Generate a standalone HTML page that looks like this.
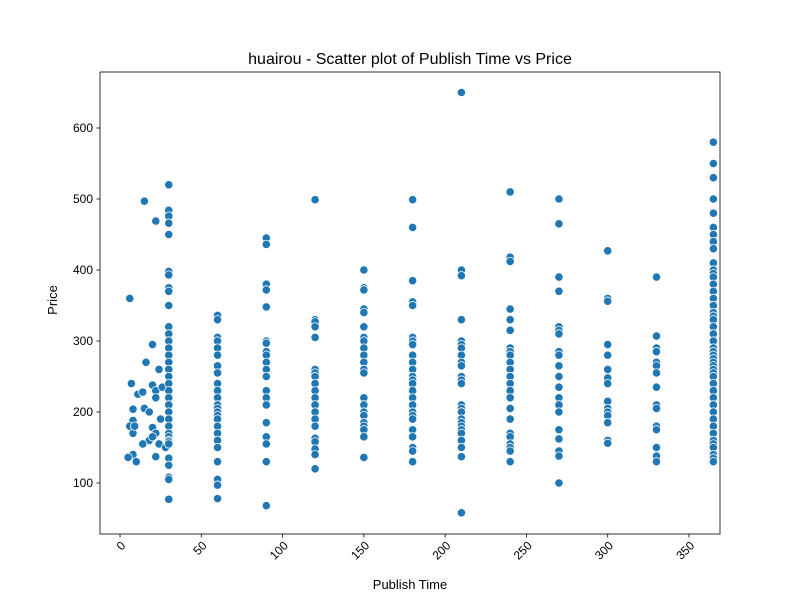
<!DOCTYPE html>
<html><head><meta charset="utf-8"><style>
body{margin:0;background:#fff;}
svg{display:block;font-family:"Liberation Sans","Noto Sans CJK SC",sans-serif;}
</style></head><body>
<svg id="chart" width="800" height="600" viewBox="0 0 800 600" xmlns="http://www.w3.org/2000/svg">
<rect x="0" y="0" width="800" height="600" fill="#fff"/>
<text x="410" y="64" text-anchor="middle" font-size="16" fill="#000">huairou - Scatter plot of Publish Time vs Price</text>
<text x="410" y="589" text-anchor="middle" font-size="13" fill="#000">Publish Time</text>
<text transform="translate(57,300) rotate(-90)" text-anchor="middle" font-size="13" fill="#000">Price</text>
<g id="points"></g>
<g id="axes"></g>
</svg>
<script>
const xTicks = [0,50,100,150,200,250,300,350];
const yTicks = [100,200,300,400,500,600];
const colX = [30,60,90,120,150,180,210,240,270,300,330,365];
const colPrices = [
 [520,484,476,466,450,398,393,375,370,350,320,310,300,290,280,270,260,250,240,230,220,210,200,190,180,170,165,160,158,155,135,125,108,105,77],
 [336,330,305,300,290,280,265,255,240,230,220,210,205,200,195,190,180,170,160,150,130,105,97,78],
 [445,436,380,372,348,300,297,285,280,270,260,250,230,220,210,185,165,155,130,68],
 [499,330,327,320,305,260,255,250,240,230,220,210,200,190,180,163,158,148,140,120],
 [400,375,372,345,340,320,305,300,290,280,270,260,255,220,210,200,195,185,180,175,165,136],
 [499,460,385,355,350,305,300,295,280,270,260,250,245,240,230,220,210,200,195,190,175,165,150,145,130],
 [650,400,392,330,300,295,290,280,270,265,250,245,240,210,205,200,190,185,180,175,170,160,150,137,58],
 [510,418,412,345,330,315,290,285,280,270,260,250,240,230,220,205,190,170,165,155,150,145,130],
 [500,465,390,370,320,315,310,285,280,265,250,235,220,210,200,175,162,145,138,100],
 [427,360,356,295,280,260,248,240,215,205,200,195,185,160,156],
 [390,307,290,285,270,265,255,235,210,205,180,175,150,138,130],
 [580,550,530,500,480,460,450,440,430,410,400,395,390,380,370,360,350,340,335,330,320,310,300,290,285,280,275,270,265,260,255,250,240,230,220,210,200,190,180,170,160,155,150,140,135,130]
];
const looseX = [6,7,15,22,16,20,8,6,8,9,8,5,10,8,11,14,15,18,20,22,24,26,20,22,18,22,20,24,28,25,22,14];
const looseY = [360,240,497,469,270,295,188,180,170,180,140,136,130,204,225,228,205,200,238,230,260,235,178,220,160,170,165,155,150,190,137,155];

const L=100,R=720,T=72,B=534;
function xs(v){return 120+v*(689-120)/350;}
function ys(v){return 483-(v-100)*(483-128)/500;}
const NS="http://www.w3.org/2000/svg";
const pg=document.getElementById('points');
function dot(x,y){
  const c=document.createElementNS(NS,'circle');
  c.setAttribute('cx',xs(x));c.setAttribute('cy',ys(y));c.setAttribute('r',4.2);
  c.setAttribute('fill','#1f77b4');c.setAttribute('stroke','#fff');c.setAttribute('stroke-width','0.8');
  
  
  pg.appendChild(c);
}
for(let i=0;i<looseX.length;i++) dot(looseX[i],looseY[i]);
colX.forEach((x,i)=>colPrices[i].forEach(p=>dot(x,p)));

const ag=document.getElementById('axes');
const frame=document.createElementNS(NS,'rect');
frame.setAttribute('x',L);frame.setAttribute('y',T);frame.setAttribute('width',R-L);frame.setAttribute('height',B-T);
frame.setAttribute('fill','none');frame.setAttribute('stroke','#000');frame.setAttribute('stroke-width','0.8');


ag.appendChild(frame);
xTicks.forEach(t=>{
  const x=xs(t);
  const l=document.createElementNS(NS,'line');
  l.setAttribute('x1',x);l.setAttribute('x2',x);l.setAttribute('y1',B);l.setAttribute('y2',B+3.5);
  l.setAttribute('stroke','#000');l.setAttribute('stroke-width','0.8');
  
  
  ag.appendChild(l);
  const tx=document.createElementNS(NS,'text');
  tx.setAttribute('transform',`translate(${x+4},${B+10}) rotate(-45)`);
  tx.setAttribute('text-anchor','end');tx.setAttribute('font-size','12');tx.setAttribute('dominant-baseline','middle');
  tx.textContent=t;
  
  
  ag.appendChild(tx);
});
yTicks.forEach(t=>{
  const y=ys(t);
  const l=document.createElementNS(NS,'line');
  l.setAttribute('x1',L-3.5);l.setAttribute('x2',L);l.setAttribute('y1',y);l.setAttribute('y2',y);
  l.setAttribute('stroke','#000');l.setAttribute('stroke-width','0.8');
  
  
  ag.appendChild(l);
  const tx=document.createElementNS(NS,'text');
  tx.setAttribute('x',L-7);tx.setAttribute('y',y+4);
  tx.setAttribute('text-anchor','end');tx.setAttribute('font-size','12');
  tx.textContent=t;
  
  
  ag.appendChild(tx);
});
</script>
</body></html>
